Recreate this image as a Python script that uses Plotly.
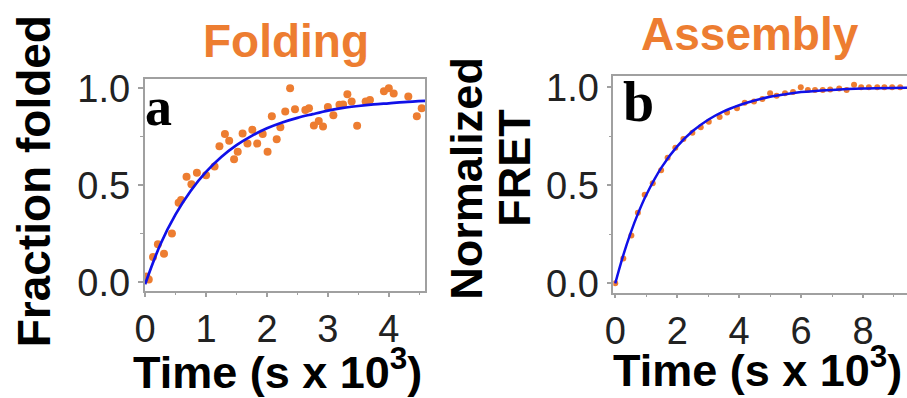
import plotly.graph_objects as go

# ---------------- data ----------------
# Panel a: Folding
fold_t = [0.02, 0.06, 0.13, 0.21, 0.31, 0.44, 0.55, 0.59, 0.68, 0.76, 0.85, 1.00, 1.14,
          1.22, 1.31, 1.38, 1.46, 1.52, 1.60, 1.68, 1.76, 1.84, 1.93, 2.01, 2.08, 2.16,
          2.22, 2.30, 2.38, 2.46, 2.63, 2.69, 2.77, 2.85, 2.92, 3.00, 3.09, 3.19, 3.25,
          3.32, 3.39, 3.48, 3.62, 3.69, 3.92, 4.00, 4.08, 4.32, 4.46, 4.54]
fold_v = [0.03, 0.015, 0.13, 0.196, 0.147, 0.252, 0.41, 0.424, 0.544, 0.505, 0.565, 0.552, 0.597,
          0.702, 0.764, 0.73, 0.634, 0.673, 0.767, 0.715, 0.786, 0.715, 0.764, 0.673, 0.856, 0.738,
          0.80, 0.88, 1.0, 0.892, 0.888, 0.897, 0.808, 0.832, 0.803, 0.904, 0.861, 0.916, 0.917,
          0.969, 0.932, 0.807, 0.932, 0.94, 0.985, 1.0, 0.974, 0.958, 0.856, 0.897]
fold_fit_t = [0.0, 0.25, 0.5, 0.75, 1.0, 1.25, 1.5, 1.75, 2.0, 2.25, 2.5, 2.75, 3.0,
              3.25, 3.5, 3.75, 4.0, 4.25, 4.6]
fold_fit_v = [-0.01, 0.195, 0.35, 0.472, 0.569, 0.646, 0.707, 0.755, 0.794, 0.824, 0.848,
              0.867, 0.885, 0.899, 0.909, 0.917, 0.923, 0.929, 0.935]

# Panel b: Assembly
asm_t = [0.0, 0.26, 0.52, 0.73, 0.95, 1.21, 1.48, 1.69, 1.94, 2.2, 2.49, 2.76, 3.02, 3.37,
         3.61, 3.93, 4.18, 4.48, 4.75, 5.0, 5.21, 5.48, 5.74, 5.99, 6.22, 6.45, 6.70, 6.94,
         7.23, 7.47, 7.71, 7.94, 8.19, 8.46, 8.69, 8.94, 9.20]
asm_v = [0.0, 0.127, 0.244, 0.36, 0.452, 0.511, 0.577, 0.641, 0.692, 0.737, 0.769, 0.797,
         0.824, 0.849, 0.872, 0.893, 0.921, 0.928, 0.941, 0.970, 0.957, 0.970, 0.976, 1.0,
         0.986, 0.986, 0.986, 0.989, 0.994, 0.986, 1.013, 1.0, 1.0, 1.0, 1.0, 1.0, 1.0]
asm_fit_t = [0.0, 0.25, 0.5, 0.75, 1.0, 1.5, 2.0, 2.5, 3.0, 3.5, 4.0, 4.5, 5.0, 5.5, 6.0,
             7.0, 8.0, 9.45]
asm_fit_v = [0.0, 0.139, 0.259, 0.362, 0.451, 0.593, 0.699, 0.777, 0.835, 0.878, 0.909,
             0.933, 0.952, 0.965, 0.976, 0.987, 0.994, 0.998]

y_ticks = [0.0, 0.5, 1.0]
y_ticktext = ["0.0", "0.5", "1.0"]
xa_ticks = [0, 1, 2, 3, 4]
xb_ticks = [0, 2, 4, 6, 8]

ORANGE = "#ED7D31"
BLUE = "#1010E8"
AXC = "#A0A0A0"
W, H = 907, 398

def px(x):
    return x / W

def py(y):
    return 1 - y / H

fig = go.Figure()
fig.add_trace(go.Scatter(x=fold_t, y=fold_v, mode="markers",
                         marker=dict(color=ORANGE, size=8), xaxis="x", yaxis="y"))
fig.add_trace(go.Scatter(x=fold_fit_t, y=fold_fit_v, mode="lines", line_shape="spline",
                         line=dict(color=BLUE, width=2.7), xaxis="x", yaxis="y"))
fig.add_trace(go.Scatter(x=asm_t, y=asm_v, mode="markers",
                         marker=dict(color=ORANGE, size=6), xaxis="x2", yaxis="y2"))
fig.add_trace(go.Scatter(x=asm_fit_t, y=asm_fit_v, mode="lines", line_shape="spline",
                         line=dict(color=BLUE, width=2.5), xaxis="x2", yaxis="y2"))

tickfont_x = dict(family="Liberation Sans, Arial", size=38, color="#222")
tickfont_y = dict(family="Liberation Sans, Arial", size=38, color="#222")

common_x = dict(showgrid=False, zeroline=False, showline=True, linecolor=AXC, linewidth=1.5,
                ticks="outside", ticklen=4, tickcolor=AXC, tickwidth=1.5, tickfont=tickfont_x)
common_y = dict(showgrid=False, zeroline=False, showline=True, linecolor=AXC, linewidth=1.5,
                ticks="outside", ticklen=5, tickcolor=AXC, tickwidth=1.5, tickfont=tickfont_y,
                tickvals=y_ticks, ticktext=y_ticktext,
                minor=dict(tickvals=[0.25, 0.75], ticks="outside", ticklen=3,
                           tickcolor=AXC, tickwidth=1.2))

fig.update_layout(
    width=W, height=H, margin=dict(l=0, r=0, t=0, b=0),
    paper_bgcolor="white", plot_bgcolor="white", showlegend=False,
    xaxis=dict(domain=[px(136), px(420)], range=[-0.01, 4.6], anchor="y", mirror=True,
               tickvals=xa_ticks,
               minor=dict(tickvals=[0.5, 1.5, 2.5, 3.5, 4.5], ticks="outside", ticklen=2.5,
                          tickcolor=AXC, tickwidth=1.2),
               **common_x),
    yaxis=dict(domain=[py(297), py(72)], range=[-0.044, 1.049], anchor="x", mirror=True,
               **common_y),
    xaxis2=dict(domain=[px(610), 1.0], range=[-0.064, 9.42], anchor="y2", mirror=True,
                tickvals=xb_ticks,
                minor=dict(tickvals=[1, 3, 5, 7, 9], ticks="outside", ticklen=2.5,
                           tickcolor=AXC, tickwidth=1.2),
                **common_x),
    yaxis2=dict(domain=[py(299), py(69)], range=[-0.048, 1.058], anchor="x2", mirror=False,
                **common_y),
)

bold = "Liberation Sans, Arial"
ann = [
    dict(text="Folding", x=px(279), y=py(32), font=dict(family=bold, size=46, color=ORANGE)),
    dict(text="Assembly", x=px(748), y=py(24), font=dict(family=bold, size=46, color=ORANGE)),
    dict(text="Time (s x 10<sup>3</sup>)", x=px(270), y=py(380),
         font=dict(family=bold, size=45, color="black")),
    dict(text="Time (s x 10<sup>3</sup>)", x=px(756), y=py(378),
         font=dict(family=bold, size=45, color="black")),
    dict(text="Fraction folded", x=px(24), y=py(181), textangle=-90,
         font=dict(family=bold, size=46, color="black")),
    dict(text="Normalized", x=px(462), y=py(177), textangle=-90,
         font=dict(family=bold, size=45, color="black")),
    dict(text="FRET", x=px(510), y=py(166), textangle=-90,
         font=dict(family=bold, size=45, color="black")),
    dict(text="a", x=px(150), y=py(102), font=dict(family="Liberation Serif, Times New Roman",
                                                    size=54, color="black")),
    dict(text="b", x=px(636), y=py(97), font=dict(family="Liberation Serif, Times New Roman",
                                                   size=56, color="black")),
]
for a in ann:
    t = a.pop("text")
    fnt = a.pop("font")
    fig.add_annotation(text="<b>" + t + "</b>", xref="paper", yref="paper", showarrow=False,
                       xanchor="center", yanchor="middle", font=fnt, **a)

fig.write_html("out.html")
